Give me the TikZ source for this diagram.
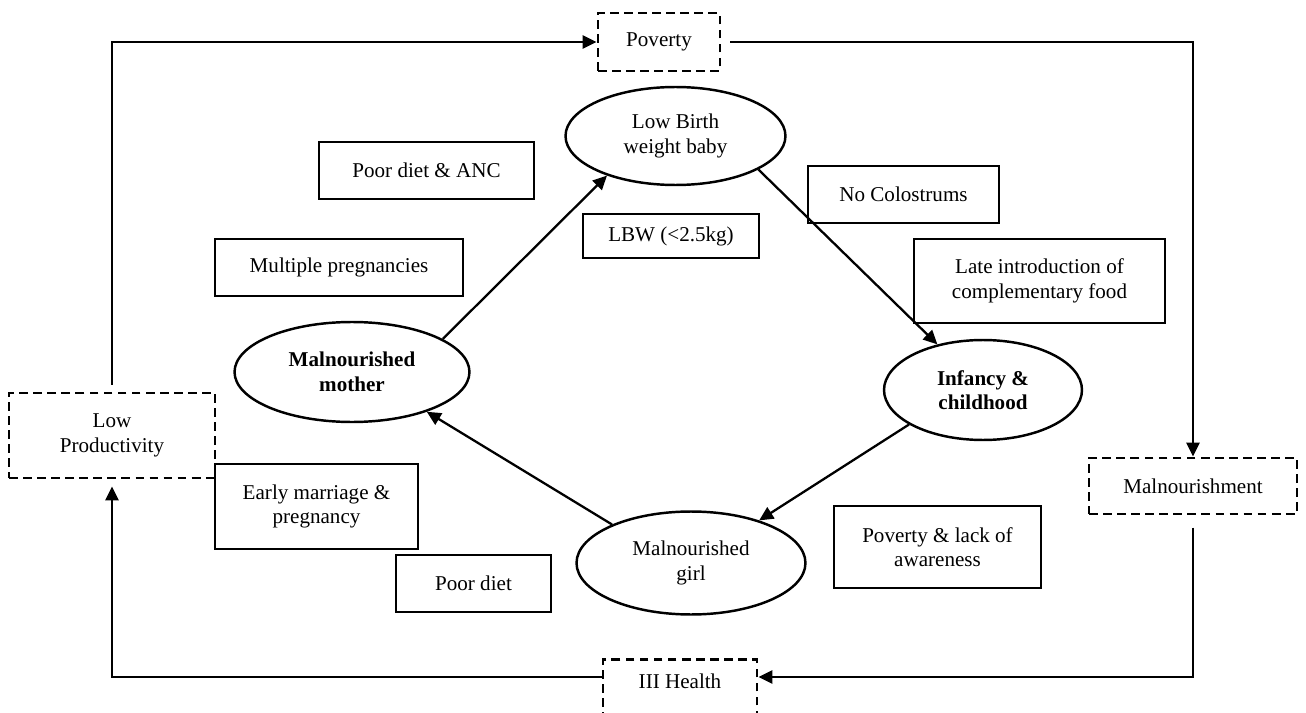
\documentclass[tikz,border=0pt]{standalone}
\usepackage{fontspec}
\setmainfont{Liberation Serif}
\usetikzlibrary{shapes.geometric,arrows.meta}

\begin{document}
\begin{tikzpicture}[x=0.02cm,y=-0.02cm]
\tikzstyle{every node}+=[inner sep=0pt, align=center, font=\fontsize{12}{14}\selectfont]
\tikzstyle{stage}=[draw, ellipse, line width=1.4pt]
\tikzstyle{heavy}=[font=\fontsize{12}{14}\selectfont\bfseries]
\tikzstyle{factor}=[draw, rectangle, line width=1.6pt]
\tikzstyle{effect}=[draw, rectangle, line width=1.6pt, dash pattern=on 5pt off 3pt]
\tikzstyle{link}=[line width=1.3pt, -{Triangle[length=8pt,width=7.5pt]}]
\useasboundingbox (0,0) rectangle (1306,713);
\clip (0,0) rectangle (1306,713);
% life cycle
\node [stage, minimum width=4.4cm, minimum height=1.96cm] (baby) at (675.5,136) {Low Birth\\weight baby};
\node [stage, heavy, minimum width=4.7cm, minimum height=2cm] (mother) at (352,372) {Malnourished\\mother};
\node [stage, heavy, minimum width=3.96cm, minimum height=2cm] (infancy) at (983,390) {Infancy \&\\childhood};
\node [stage, minimum width=4.58cm, minimum height=2.06cm] (girl) at (691,563) {Malnourished\\girl};
% causes
\node [factor, minimum width=4.3cm, minimum height=1.14cm] (anc) at (426.5,170.5) {Poor diet \& ANC};
\node [factor, minimum width=4.96cm, minimum height=1.14cm] (multi) at (339,267.5) {Multiple pregnancies};
\node [factor, minimum width=3.52cm, minimum height=0.88cm] (lbw) at (671,236) {LBW (<2.5kg)};
\node [factor, minimum width=3.82cm, minimum height=1.14cm] (colos) at (903.5,194.5) {No Colostrums};
\node [factor, minimum width=5.02cm, minimum height=1.68cm] (late) at (1039.5,281) {Late introduction of\\complementary food};
\node [factor, minimum width=4.06cm, minimum height=1.7cm] (early) at (316.5,506.5) {Early marriage \&\\pregnancy};
\node [factor, minimum width=3.1cm, minimum height=1.14cm] (diet) at (473.5,583.5) {Poor diet};
\node [factor, minimum width=4.14cm, minimum height=1.64cm] (aware) at (937.5,547) {Poverty \& lack of\\awareness};
% outer loop
\node [effect, minimum width=2.44cm, minimum height=1.16cm] (pov) at (659,42) {Poverty};
\node [effect, minimum width=4.12cm, minimum height=1.7cm] (lowp) at (112,435.5) {Low\\Productivity};
\node [effect, minimum width=4.16cm, minimum height=1.12cm] (maln) at (1193,486) {Malnourishment};
\node [effect, minimum width=3.08cm, anchor=north, text height=16.4pt, text depth=1.2cm] (ill) at (680,658) {III Health};
\draw [link] (mother.20) -- (baby.210);
\draw [link] (baby.-22) -- (infancy.135);
\draw [link] (infancy.205) -- (girl.32);
\draw [link] (girl.154) -- (mother.-28);
\draw [link, shorten <=4pt] (lowp.north) |- (pov.west);
\draw [link, shorten <=5pt] (pov.east) -| (maln.north);
\draw [link, shorten <=7pt] (maln.south) |- ([yshift=-0.38cm]ill.north east);
\draw [link, shorten >=4pt] ([yshift=-0.38cm]ill.north west) -| (lowp.south);
\end{tikzpicture}
\end{document}
